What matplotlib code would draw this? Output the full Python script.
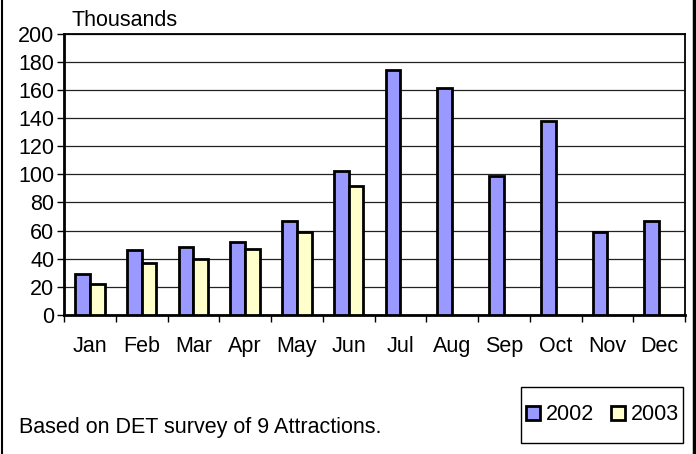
import numpy as np
import matplotlib.pyplot as plt
from matplotlib.lines import Line2D
from matplotlib.patches import Rectangle

plt.rcParams['font.family'] = ['Liberation Sans', 'DejaVu Sans']

# Monthly visitors (thousands)
months = ['Jan', 'Feb', 'Mar', 'Apr', 'May', 'Jun', 'Jul', 'Aug', 'Sep', 'Oct', 'Nov', 'Dec']
visits_2002 = [29, 46, 48, 52, 67, 102, 174, 161, 99, 138, 59, 67]
visits_2003 = [22, 37, 40, 47, 59, 92]

fs = 15.5
fig = plt.figure(figsize=(6.96, 4.54), dpi=100)
W, H = 696, 454
ax = fig.add_axes([64 / W, 1 - 315 / H, (685 - 64) / W, (315 - 33.5) / H])

x = np.arange(len(months))
bw = 1 / 3.5
ax.bar(x - bw / 2, visits_2002, bw, color='#9999FF', edgecolor='black', linewidth=2, label='2002', zorder=3)
ax.bar(x[:len(visits_2003)] + bw / 2, visits_2003, bw, color='#FFFFCC', edgecolor='black', linewidth=2,
       label='2003', zorder=3)

ax.set_xlim(-0.5, len(months) - 0.5)
ax.set_ylim(0, 200)
ax.set_yticks(range(0, 201, 20))
ax.yaxis.grid(True, color='#222222', linewidth=0.9, zorder=0)
ax.set_xticks(x)
ax.set_xticklabels(months, fontsize=fs)
ax.set_xticks(np.arange(-0.5, len(months), 1), minor=True)
ax.tick_params(axis='x', which='major', length=0, pad=15)
ax.tick_params(axis='x', which='minor', length=5, width=1, direction='out')
ax.tick_params(axis='y', length=5, width=1, direction='out', labelsize=fs, pad=2)

for side in ['top', 'right']:
    ax.spines[side].set_linewidth(1.3)
ax.spines['left'].set_linewidth(2)
ax.spines['bottom'].set_linewidth(2)

fig.text(72 / W, 1 - 20 / H, 'Thousands', fontsize=fs, va='center', ha='left')
fig.text(19 / W, 1 - 428 / H, 'Based on DET survey of 9 Attractions.', fontsize=fs, va='center', ha='left')

# legend box drawn separately so its size matches the original
fig.add_artist(Rectangle((521 / W, 1 - 443 / H), 162 / W, 56 / H, transform=fig.transFigure,
                         facecolor='white', edgecolor='black', linewidth=1))
handles = [Line2D([], [], marker='s', linestyle='none', markersize=9.5, markerfacecolor='#9999FF',
                  markeredgecolor='black', markeredgewidth=2),
           Line2D([], [], marker='s', linestyle='none', markersize=9.5, markerfacecolor='#FFFFCC',
                  markeredgecolor='black', markeredgewidth=2)]
leg = fig.legend(handles, ['2002', '2003'], loc='center', bbox_to_anchor=(603 / W, 1 - 415 / H),
                 ncol=2, fontsize=fs, frameon=False, borderpad=0,
                 handlelength=0.6, handletextpad=0.3, columnspacing=0.8)

# outer chart border (left and right edges)
fig.add_artist(Line2D([1.5 / W, 1.5 / W], [0, 1], color='black', linewidth=1.5))
fig.add_artist(Line2D([694 / W, 694 / W], [0, 1], color='black', linewidth=2.5))

fig.savefig('out.png', dpi=100)
